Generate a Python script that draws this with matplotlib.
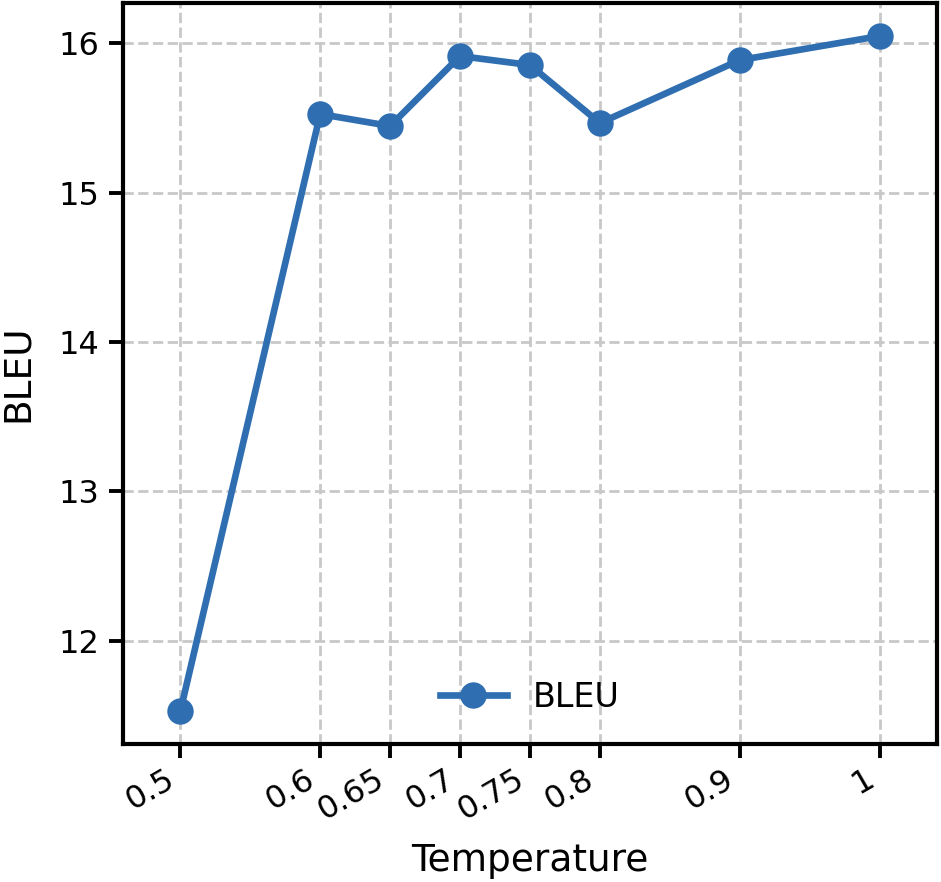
import matplotlib.pyplot as plt

temperature = [0.5, 0.6, 0.65, 0.7, 0.75, 0.8, 0.9, 1.0]
tick_labels = ["0.5", "0.6", "0.65", "0.7", "0.75", "0.8", "0.9", "1"]
bleu = [11.53, 15.525, 15.445, 15.913, 15.853, 15.465, 15.886, 16.047]

fig = plt.figure(figsize=(4.705, 4.41), dpi=200)
ax = fig.add_axes([0.1307, 0.1565, 0.865, 0.8401])

ax.plot(temperature, bleu, color="#2f6fb1", linewidth=2.4, marker="o",
        markersize=8.5, label="BLEU", zorder=3)

ax.set_xlim(0.459, 1.041)
ax.set_ylim(11.311, 16.268)
ax.set_xticks(temperature)
ax.set_xticklabels(tick_labels, rotation=30, ha="right", fontsize=11.5)
ax.set_yticks([12, 13, 14, 15, 16])
ax.tick_params(axis="y", labelsize=11.5)
ax.tick_params(width=1.4, length=5)
ax.tick_params(axis="x", pad=2)
for s in ax.spines.values():
    s.set_linewidth(1.5)

ax.grid(True, linestyle="--", color="#c8c8c8", linewidth=1.0)
ax.set_xlabel("Temperature", fontsize=13.5, labelpad=6)
ax.set_ylabel("BLEU", fontsize=13.5, labelpad=8)
ax.legend(loc="lower center", frameon=False, fontsize=12)

fig.savefig("out.png", dpi=200)
